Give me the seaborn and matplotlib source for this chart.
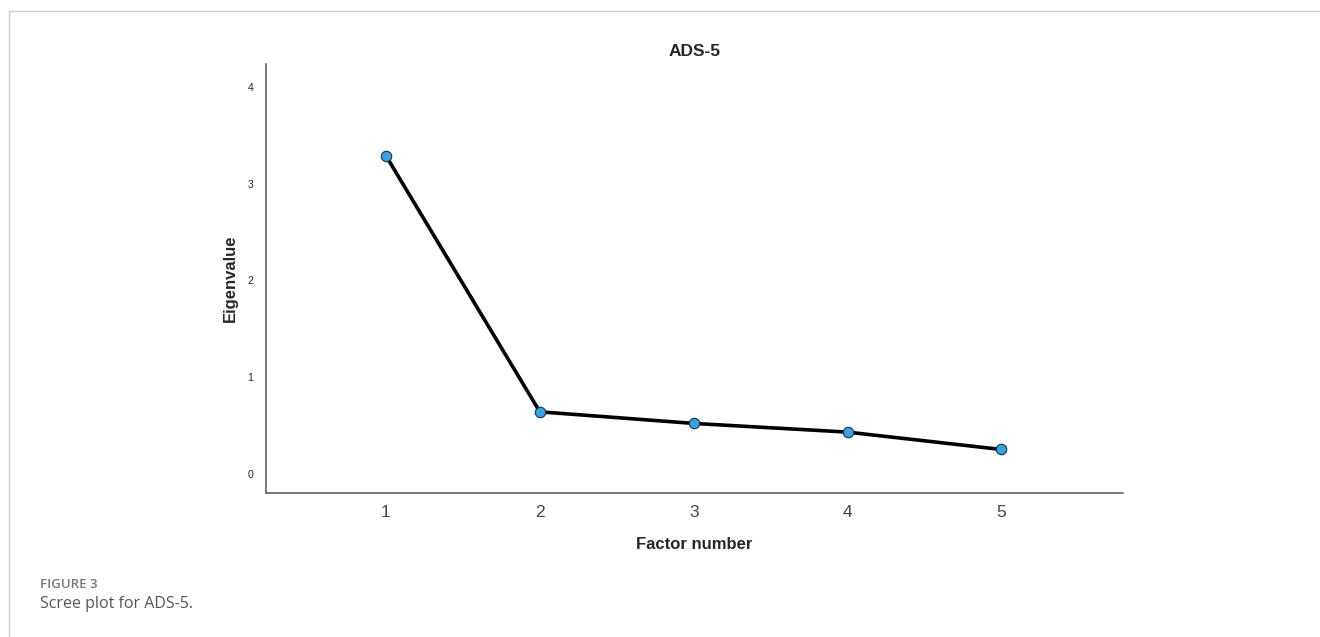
import numpy as np
import pandas as pd
import seaborn as sns
import matplotlib.pyplot as plt
from matplotlib.lines import Line2D

# scree plot values
factor_number = [1, 2, 3, 4, 5]
eigenvalue = [3.29, 0.64, 0.52, 0.43, 0.25]
y_ticks = [0, 1, 2, 3, 4]

df = pd.DataFrame({"Factor number": factor_number, "Eigenvalue": eigenvalue})

sns.set_style("white")
plt.rcParams['font.family'] = ['Liberation Sans', 'DejaVu Sans']

fig = plt.figure(figsize=(13.2, 6.37), dpi=100)
ax = fig.add_axes([0.2015, 0.2261, 0.6492, 0.6734])

sns.lineplot(data=df, x="Factor number", y="Eigenvalue", ax=ax,
             color="black", linewidth=2.6, marker="o", markersize=7.5,
             markerfacecolor="#2ea6ee", markeredgecolor="#2b2b2b",
             markeredgewidth=0.8)

ax.set_xlim(0.22, 5.79)
ax.set_ylim(-0.2, 4.24)
ax.set_xticks(factor_number)
ax.set_yticks(y_ticks)
ax.tick_params(axis="x", length=0, labelsize=12.5, labelcolor="#444444", pad=9)
ax.tick_params(axis="y", length=0, labelsize=7.5, labelcolor="#222222", pad=9)

for side in ["top", "right"]:
    ax.spines[side].set_visible(False)
for side in ["left", "bottom"]:
    ax.spines[side].set_color("#555555")
    ax.spines[side].set_linewidth(1.1)

ax.set_title("ADS-5", fontsize=12.5, fontweight="bold", pad=6)
ax.set_xlabel("Factor number", fontsize=12, fontweight="bold", labelpad=12)
ax.set_ylabel("Eigenvalue", fontsize=12, fontweight="bold", labelpad=7)

# page frame lines
fig.add_artist(Line2D([9 / 1320, 1], [1 - 11 / 637, 1 - 11 / 637],
                      transform=fig.transFigure, color="#cccccc", linewidth=1))
fig.add_artist(Line2D([9 / 1320, 9 / 1320], [0, 1 - 11 / 637],
                      transform=fig.transFigure, color="#cccccc", linewidth=1))

# caption
fig.text(40 / 1320, 1 - 585 / 637, "FIGURE 3", fontsize=9.5, color="#777777",
         fontweight="semibold", family=["Open Sans", "DejaVu Sans"],
         va="center", ha="left")
fig.text(40 / 1320, 1 - 604 / 637, "Scree plot for ADS-5.", fontsize=11.5,
         color="#555555", family=["Open Sans", "DejaVu Sans"], va="center", ha="left")

fig.savefig("out.png", dpi=100)
